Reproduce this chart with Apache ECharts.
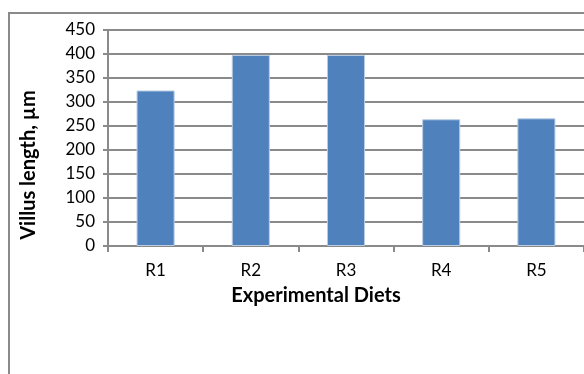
<!DOCTYPE html>
<html>
<head>
<meta charset="utf-8">
<script src="https://cdn.jsdelivr.net/npm/echarts@6/dist/echarts.min.js"></script>
<style>
  html, body { margin: 0; padding: 0; background: #fff; }
  #chart { width: 584px; height: 374px; }
</style>
</head>
<body>
<div id="chart"></div>
<script>
const diets = ['R1', 'R2', 'R3', 'R4', 'R5'];
const villusLength = [324, 398, 398, 264, 266];
const yTicks = [0, 50, 100, 150, 200, 250, 300, 350, 400, 450];

const chart = echarts.init(document.getElementById('chart'));
const gray = '#8a8a8a';
const font = 'Lato, "Open Sans", sans-serif';

const option = {
  animation: false,
  textStyle: { fontFamily: font },
  grid: { left: 108, top: 30, width: 477, height: 216 },
  graphic: [
    {
      type: 'rect',
      shape: { x: 9, y: 13, width: 700, height: 500 },
      style: { fill: 'none', stroke: gray, lineWidth: 2 },
      z: -1
    },
    {
      type: 'text',
      x: 316, y: 296,
      style: {
        text: 'Experimental Diets', font: 'bold 20px ' + font,
        fill: '#000', align: 'center', verticalAlign: 'middle'
      }
    },
    {
      type: 'text',
      x: 29, y: 165, rotation: Math.PI / 2,
      style: {
        text: 'Villus length, µm', font: 'bold 20px ' + font,
        fill: '#000', align: 'center', verticalAlign: 'middle'
      }
    }
  ],
  xAxis: {
    type: 'category',
    data: diets,
    axisLine: { lineStyle: { color: gray, width: 2 } },
    axisTick: { show: true, length: 6, lineStyle: { color: gray, width: 2 } },
    axisLabel: { color: '#000', fontSize: 17, margin: 16 }
  },
  yAxis: {
    type: 'value',
    min: yTicks[0],
    max: yTicks[yTicks.length - 1],
    interval: 50,
    axisLine: { show: true, lineStyle: { color: gray, width: 2 } },
    axisTick: { show: true, length: 5, lineStyle: { color: gray, width: 2 } },
    axisLabel: { color: '#000', fontSize: 17, margin: 13 },
    splitLine: { lineStyle: { color: gray, width: 2 } }
  },
  series: [{
    type: 'bar',
    data: villusLength,
    barWidth: '40%',
    itemStyle: { color: '#4f81bd', borderColor: '#b9cde5', borderWidth: 1 }
  }]
};

chart.setOption(option);
</script>
</body>
</html>
